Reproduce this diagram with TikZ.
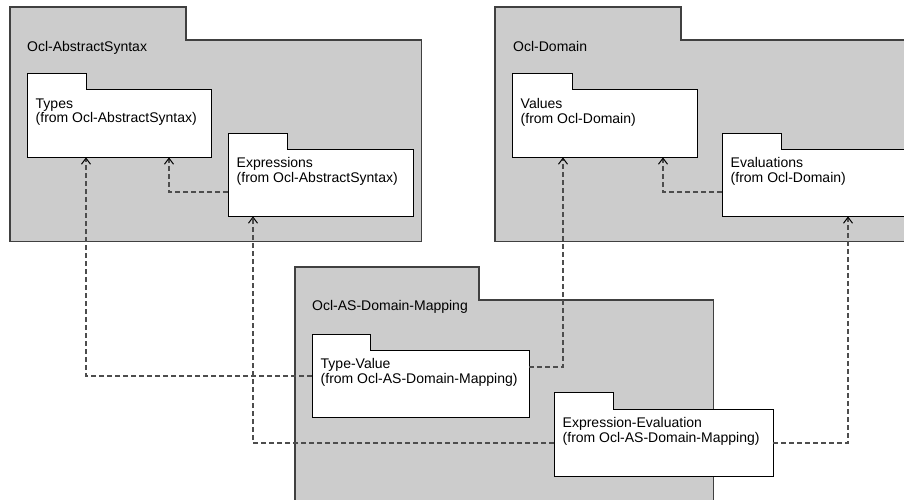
\documentclass[tikz,border=0pt]{standalone}
\usepackage{fontspec}
\setmainfont{Liberation Sans}
\usetikzlibrary{arrows.meta}
\definecolor{pkgfill}{HTML}{CCCCCC}
\definecolor{pkgedge}{HTML}{404040}
\definecolor{depline}{HTML}{4D4D4D}

% UML package: body node plus a tab on its upper left corner
% #1 style, #2 name, #3 body top-left, #4 width, #5 height, #6 tab width, #7 tab height
\newcommand\umlpackage[7]{%
  \node[inner sep=0pt, minimum width=#4pt, minimum height=#5pt, anchor=north west] (#2) at #3 {};
  \filldraw[#1] (#2.south west) -- ([yshift=#7pt]#2.north west)
    -- ([xshift=#6pt,yshift=#7pt]#2.north west) -- ([xshift=#6pt]#2.north west)
    -- (#2.north east) -- (#2.south east) -- cycle;
}

\tikzset{
  outerpkg/.style={fill=pkgfill, draw=pkgedge, line width=1.2pt},
  innerpkg/.style={fill=white, draw=black, line width=1pt},
  pkgtext/.style={inner sep=0pt, anchor=north west, align=left,
    font=\fontsize{14pt}{14.5pt}\selectfont},
  dep/.style={draw=depline, line width=1.1pt, dash pattern=on 5pt off 3pt,
    -{Straight Barb[length=6pt,width=9pt,line width=1pt,color=black]}},
}

\begin{document}
\begin{tikzpicture}[x=1pt,y=-1pt]
  \clip (0,0) rectangle (904,500);
  \fill[white] (0,0) rectangle (904,500);

  % enclosing packages
  \umlpackage{outerpkg}{absyn}{(10,40)}{411}{201}{176}{33}
  \umlpackage{outerpkg}{domain}{(495,40)}{425}{201}{186}{33}
  \umlpackage{outerpkg}{mapping}{(295,300)}{418}{220}{184}{33}

  \node[pkgtext] (absyn-lbl) at (27,41) {Ocl-AbstractSyntax};
  \node[pkgtext] (domain-lbl) at (513,41) {Ocl-Domain};
  \node[pkgtext] (mapping-lbl) at (312,300) {Ocl-AS-Domain-Mapping};

  % contained packages
  \umlpackage{innerpkg}{types}{(27,90)}{184}{67}{59}{16}
  \umlpackage{innerpkg}{exprs}{(228,149)}{185}{67}{59}{16}
  \umlpackage{innerpkg}{values}{(512,90)}{185}{67}{60}{16}
  \umlpackage{innerpkg}{evals}{(722,149)}{185}{67}{59}{16}
  \umlpackage{innerpkg}{tv}{(312,350)}{217}{67}{58}{16}
  \umlpackage{innerpkg}{ee}{(554,409)}{219}{67}{59}{17}

  \node[pkgtext] (types-lbl) at ([xshift=8.5pt,yshift=-8.5pt]types.north west) {Types\\(from Ocl-AbstractSyntax)};
  \node[pkgtext] (exprs-lbl) at ([xshift=8.5pt,yshift=-8.5pt]exprs.north west) {Expressions\\(from Ocl-AbstractSyntax)};
  \node[pkgtext] (values-lbl) at ([xshift=8.5pt,yshift=-8.5pt]values.north west) {Values\\(from Ocl-Domain)};
  \node[pkgtext] (evals-lbl) at ([xshift=8.5pt,yshift=-8.5pt]evals.north west) {Evaluations\\(from Ocl-Domain)};
  \node[pkgtext] (tv-lbl) at ([xshift=8.5pt,yshift=-8.5pt]tv.north west) {Type-Value\\(from Ocl-AS-Domain-Mapping)};
  \node[pkgtext] (ee-lbl) at ([xshift=8.5pt,yshift=-8.5pt]ee.north west) {Expression-Evaluation\\(from Ocl-AS-Domain-Mapping)};

  % dependencies
  \draw[dep] ([yshift=-26pt]tv.north west) -| ([xshift=59pt]types.south west);
  \draw[dep] ([yshift=-17pt]tv.north east) -| ([xshift=51pt]values.south west);
  \draw[dep] ([yshift=-43pt]exprs.north west) -| ([xshift=142pt]types.south west);
  \draw[dep] ([yshift=-43pt]evals.north west) -| ([xshift=151pt]values.south west);
  \draw[dep] ([yshift=-34pt]ee.north west) -| ([xshift=25pt]exprs.south west);
  \draw[dep] ([yshift=-34pt]ee.north east) -| ([xshift=126pt]evals.south west);
\end{tikzpicture}
\end{document}
